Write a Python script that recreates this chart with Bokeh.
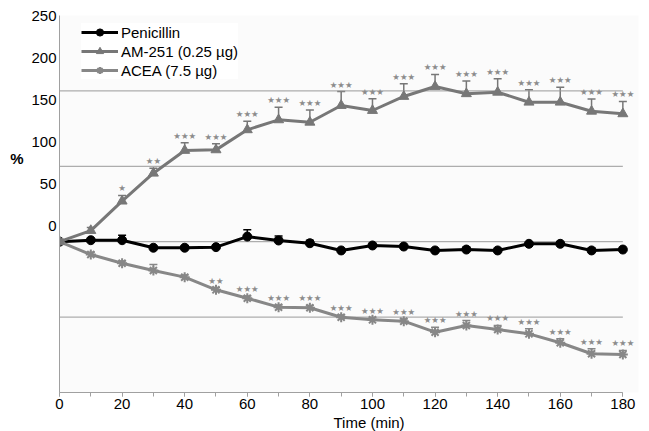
from bokeh.plotting import figure
from bokeh.models import (ColumnDataSource, Range1d, LinearAxis, FixedTicker,
                          SingleIntervalTicker, Whisker, TeeHead, Legend,
                          LegendItem, Title)
from bokeh.core.properties import value
from bokeh.embed import file_html
from bokeh.resources import INLINE

# ---------------- data ----------------
time_min = [0, 10, 20, 30, 40, 50, 60, 70, 80, 90, 100, 110, 120, 130, 140, 150, 160, 170, 180]

penicillin = [100, 101, 101, 96, 96, 96.4, 103.4, 100.8, 99, 94.2, 97.5, 96.8, 94.2, 94.8, 94.2, 98.6, 98.6, 94.2, 94.8]
penicillin_err = [0, 0.5, 3.3, 0.5, 1, 0.5, 4.6, 3, 2, 0.5, 1, 0.5, 0.5, 1.5, 0.5, 1, 1.5, 1.5, 0.5]

am251 = [100, 107.4, 126.9, 145.4, 160.5, 160.9, 174.2, 180.8, 179.2, 190.3, 187, 196.3, 202.9, 198.1, 199.1, 192.5, 192.5, 186.5, 184.8]
am251_err = [0, 2, 3.8, 3.3, 5.1, 4, 5.7, 8.4, 8.2, 9.3, 7.8, 8.4, 8, 8.4, 8.9, 8.2, 10, 8.2, 8.2]
am251_sig = ["", "", "*", "**", "***", "***", "***", "***", "***", "***", "***", "***", "***", "***", "***", "***", "***", "***", "***"]

acea = [100, 91.5, 85.7, 80.9, 76.5, 68.1, 62.5, 56.6, 56.2, 49.9, 48.2, 47.3, 40, 44.4, 41.8, 38.9, 33, 25.7, 25.2]
acea_err = [0, 1.5, 1.5, 4, 1.5, 1.5, 1.5, 1.5, 1.5, 1.5, 1.5, 1.5, 3.3, 3.3, 2.7, 3.3, 2.7, 3.3, 2.7]
acea_sig = ["", "", "", "", "", "**", "***", "***", "***", "***", "***", "***", "***", "***", "***", "***", "***", "***", "***"]

series_names = ["Penicillin", "AM-251 (0.25 \u00b5g)", "ACEA (7.5 \u00b5g)"]
y_tick_labels = [0, 50, 100, 150, 200, 250]
grid_values = [50, 100, 150, 200]
x_label = "Time (min)"
y_label = "%"

# ---------------- styling ----------------
FONT = "Liberation Sans"
BLACK = "#000000"
GRAY_AM = "#777777"
GRAY_AC = "#878787"
STAR = "#8c8c8c"
AXIS = "#a0a0a0"

p = figure(width=649, height=431, output_backend="svg", toolbar_location=None,
           x_range=Range1d(0, 185), y_range=Range1d(0, 250),
           min_border_left=59, min_border_right=11, min_border_top=15,
           min_border_bottom=39)
p.outline_line_color = None
p.background_fill_color = "#fbfbfb"
p.border_fill_color = "#ffffff"

# label scale for the (offset) y tick labels of the original figure
p.extra_y_ranges = {"lab": Range1d(-198.8, 250)}

p.xgrid.visible = False
p.ygrid.visible = False

# horizontal gridlines limited to the time span
p.segment(x0=[time_min[0]] * len(grid_values), x1=[time_min[-1]] * len(grid_values),
          y0=grid_values, y1=grid_values, line_color="#9a9a9a", line_width=1)

# x axis
xa = p.xaxis[0]
xa.ticker = SingleIntervalTicker(interval=20, num_minor_ticks=2)
xa.bounds = (time_min[0], time_min[-1])
xa.axis_line_color = AXIS
xa.major_tick_line_color = AXIS
xa.minor_tick_line_color = AXIS
xa.major_tick_in = 0
xa.major_tick_out = 4
xa.minor_tick_in = 0
xa.minor_tick_out = 4
xa.major_label_text_font = FONT
xa.major_label_text_font_size = "15px"
xa.major_label_text_color = BLACK
xa.major_label_standoff = 2

# hide default y axis, add label axis
p.yaxis[0].visible = False
ya = LinearAxis(y_range_name="lab", ticker=FixedTicker(ticks=y_tick_labels))
ya.axis_line_color = AXIS
ya.major_tick_line_color = None
ya.minor_tick_line_color = None
ya.major_tick_in = 0
ya.major_tick_out = 0
ya.minor_tick_in = 0
ya.minor_tick_out = 0
ya.major_label_text_font = FONT
ya.major_label_text_font_size = "15px"
ya.major_label_text_color = BLACK
ya.major_label_standoff = 3
p.add_layout(ya, "left")

# "%" as a single-label axis further left
pa = LinearAxis(ticker=FixedTicker(ticks=[155]), major_label_overrides={155: y_label})
pa.axis_line_color = None
pa.major_tick_line_color = None
pa.minor_tick_line_color = None
pa.major_tick_in = 0
pa.major_tick_out = 0
pa.minor_tick_in = 0
pa.minor_tick_out = 0
pa.major_label_text_font = FONT
pa.major_label_text_font_size = "15px"
pa.major_label_text_font_style = "bold"
pa.major_label_text_color = BLACK
pa.major_label_standoff = 5
p.add_layout(pa, "left")

# x axis title, shifted right as in the original
p.add_layout(Title(text=x_label, align="left", offset=274, standoff=0,
                   text_font=FONT, text_font_size="15px",
                   text_font_style="normal", text_color=BLACK), "below")

# sources
src_pen = ColumnDataSource(dict(x=time_min, y=penicillin,
                                up=[v + e for v, e in zip(penicillin, penicillin_err)]))
src_am = ColumnDataSource(dict(x=time_min, y=am251,
                               up=[v + e for v, e in zip(am251, am251_err)],
                               sig=[s.replace("*", "\u2605") for s in am251_sig]))
src_ac = ColumnDataSource(dict(x=time_min, y=acea,
                               up=[v + e for v, e in zip(acea, acea_err)],
                               sig=[s.replace("*", "\u2605") for s in acea_sig]))

# error bars (upper only)
for src, col in ((src_pen, BLACK), (src_am, GRAY_AM), (src_ac, GRAY_AC)):
    w = Whisker(base="x", lower="y", upper="up", source=src,
                line_color=col, line_width=1.5,
                upper_head=TeeHead(size=8, line_color=col, line_width=1.5),
                lower_head=None)
    p.add_layout(w)

# lines and markers
pen_l = p.line("x", "y", source=src_pen, line_color=BLACK, line_width=3)
pen_m = p.scatter("x", "y", source=src_pen, marker="circle", size=9,
                  fill_color=BLACK, line_color=BLACK)
ac_l = p.line("x", "y", source=src_ac, line_color=GRAY_AC, line_width=3)
ac_m = p.scatter("x", "y", source=src_ac, marker="asterisk", size=10,
                 line_color=GRAY_AC, line_width=2)
am_l = p.line("x", "y", source=src_am, line_color=GRAY_AM, line_width=3)
am_m = p.scatter("x", "y", source=src_am, marker="triangle", size=10,
                 fill_color=GRAY_AM, line_color=GRAY_AM)

# significance stars
for src in (src_am, src_ac):
    p.text("x", "up", text="sig", source=src, text_font=value("DejaVu Sans"),
           text_font_size="8.5px", text_color=STAR, text_align="center",
           text_baseline="middle", y_offset=-7)

# legend
legend = Legend(items=[LegendItem(label=series_names[0], renderers=[pen_l, pen_m]),
                       LegendItem(label=series_names[1], renderers=[am_l, am_m]),
                       LegendItem(label=series_names[2], renderers=[ac_l, ac_m])],
                location=(22, 313), orientation="vertical",
                glyph_width=37, glyph_height=18, label_height=18, spacing=1,
                label_standoff=3, padding=0, margin=0,
                border_line_color=None, background_fill_color="#ffffff",
                background_fill_alpha=1.0,
                label_text_font=FONT, label_text_font_size="15px",
                label_text_color=BLACK)
p.add_layout(legend)

open("out.html", "w").write(file_html(p, INLINE))
